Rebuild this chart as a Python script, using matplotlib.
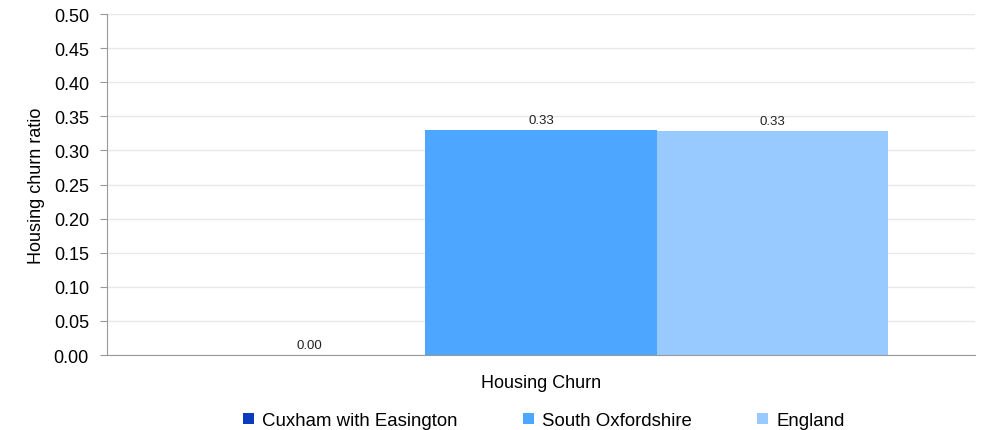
import numpy as np
import matplotlib.pyplot as plt

plt.rcParams['font.family'] = ['Liberation Sans', 'DejaVu Sans']

categories = ['Housing Churn']
series_names = ['Cuxham with Easington', 'South Oxfordshire', 'England']
values = [0.0, 0.330, 0.328]
labels = ['0.00', '0.33', '0.33']
colors = ['#0a3bbf', '#4da6ff', '#99caff']

fig = plt.figure(figsize=(9.87, 4.31), dpi=100)
ax = fig.add_axes([0.1084, 0.174, 0.8794, 0.791])

w = 0.8 / 3
x = np.arange(len(categories))
for i, (name, v, lab, c) in enumerate(zip(series_names, values, labels, colors)):
    xs = x + (i - 1) * w
    ax.bar(xs, [v], width=w, color=c, label=name, zorder=2)
    ax.text(xs[0], v + 0.006, lab, ha='center', va='bottom', fontsize=9.5, color='#222222')

ax.set_xlim(-0.5, 0.5)
ax.set_ylim(0, 0.5)
ticks = np.arange(0, 0.51, 0.05)
ax.set_yticks(ticks)
ax.set_yticklabels([f'{t:.2f}' for t in ticks], fontsize=13)
ax.set_xticks([])
ax.grid(axis='y', color='#e8e8e8', linewidth=1, zorder=0)
for s in ['top', 'right']:
    ax.spines[s].set_visible(False)
for s in ['left', 'bottom']:
    ax.spines[s].set_color('#999999')
ax.tick_params(axis='y', length=5, color='#999999', pad=8)
ax.set_ylabel('Housing churn ratio', fontsize=13, labelpad=6)
ax.set_xlabel('Housing Churn', fontsize=13, labelpad=14)

# legend below the x label
fig.legend(loc='center', bbox_to_anchor=(0.551, 0.022), ncol=3, frameon=False,
           fontsize=13.4, handlelength=0.6, handleheight=0.6, columnspacing=3.5, handletextpad=0.45,
           borderaxespad=0, borderpad=0)

fig.savefig('out.png', dpi=100)
